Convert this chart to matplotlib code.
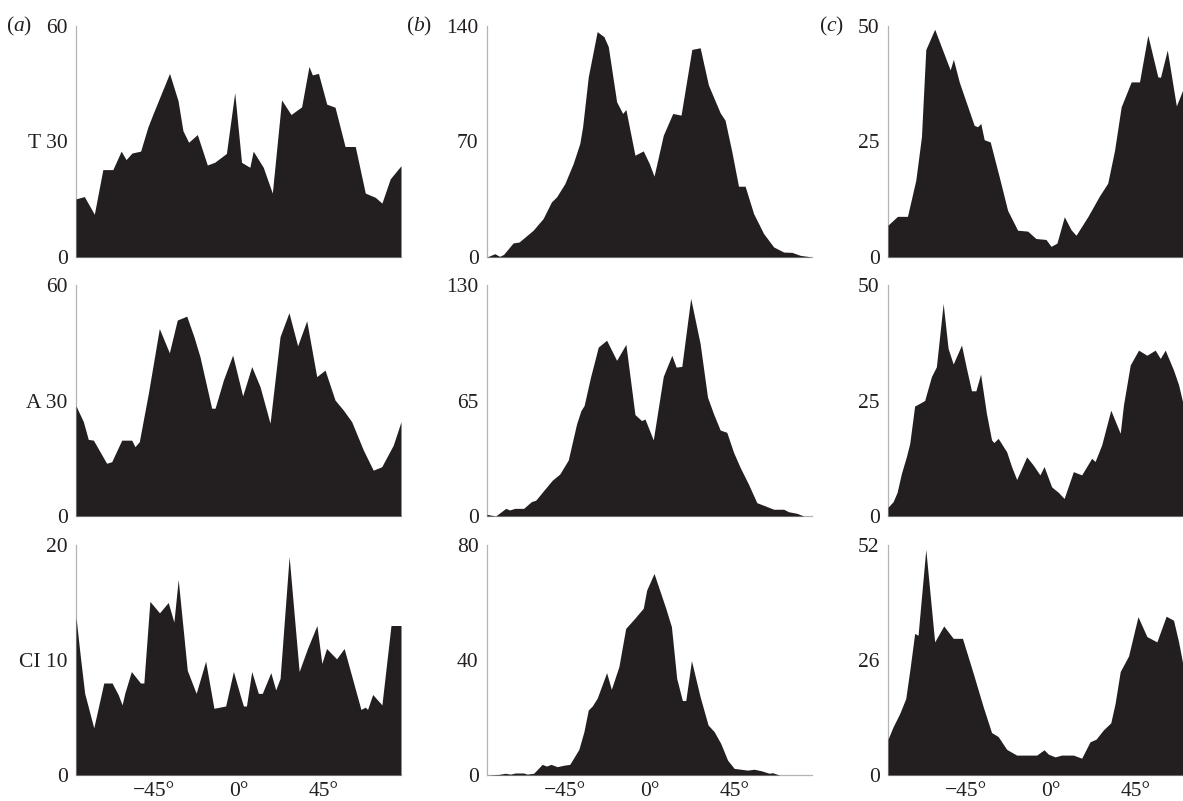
import matplotlib
matplotlib.use("Agg")
import matplotlib.pyplot as plt

plt.rcParams['font.family'] = ['Liberation Serif', 'DejaVu Serif']
plt.rcParams['mathtext.fontset'] = 'custom'
plt.rcParams['mathtext.rm'] = 'Liberation Serif'
plt.rcParams['mathtext.it'] = 'Liberation Serif:italic'

# ---------------- data (angle in degrees, count) ----------------
# column (a)
a_T_deg = [-86, -81.6, -76.3, -71.8, -66.5, -62.1, -59.5, -56.4, -51.8, -48.0, -45.3, -36.5, -32.0,
           -29.4, -26.4, -21.8, -16.5, -12.6, -6.4, -2.0, 1.6, 6.0, 7.8, 13.1, 17.9, 22.8, 27.8,
           33.4, 37.3, 39.1, 42.3, 46.7, 51.1, 56.4, 61.8, 67.1, 72.4, 75.9, 80.3, 86]
a_T_val = [15.1, 15.7, 11.1, 22.7, 22.7, 27.5, 25.3, 27.0, 27.5, 33.7, 37.1, 47.7, 40.6,
           32.8, 29.8, 31.8, 23.9, 24.6, 26.9, 42.7, 24.6, 23.3, 27.5, 23.3, 16.6, 40.8, 37.0,
           39.0, 49.5, 47.3, 47.7, 39.7, 38.9, 28.7, 28.7, 16.6, 15.5, 14.0, 20.3, 23.7]

a_A_deg = [-86, -82.1, -79.5, -76.8, -69.8, -67.1, -61.8, -56.5, -54.8, -52.5, -47.7, -41.9, -36.6,
           -32.4, -27.4, -23.6, -20.4, -14.2, -12.4, -8.0, -3.1, 2.2, 7.0, 11.4, 16.7, 22.0, 26.7,
           31.3, 36.1, 41.4, 45.8, 51.1, 55.5, 59.9, 66.1, 71.3, 75.8, 81.9, 86]
a_A_val = [28.6, 24.5, 19.9, 19.7, 13.7, 14.1, 19.7, 19.7, 18.0, 19.3, 31.9, 48.7, 42.4,
           50.9, 51.9, 46.6, 41.4, 28.0, 28.0, 35.3, 41.8, 31.2, 38.8, 33.6, 24.1, 46.6, 52.8,
           44.2, 50.7, 36.2, 37.9, 30.1, 27.5, 24.5, 17.1, 11.9, 12.8, 18.4, 24.5]

a_CI_deg = [-86, -83.7, -81.4, -76.6, -71.3, -66.9, -63.7, -61.6, -60.2, -56.7, -51.9, -50.1, -46.9,
            -41.8, -37.2, -34.2, -31.9, -27.1, -22.4, -17.4, -13.0, -6.8, -2.7, 0.6, 2.6, 4.2, 7.0,
            10.5, 12.6, 17.1, 19.7, 22.0, 26.8, 32.1, 36.5, 41.5, 44.1, 46.6, 51.9, 55.9, 64.8,
            67.1, 68.3, 71.0, 75.9, 80.7, 86]
a_CI_val = [13.7, 10.3, 7.1, 4.1, 8.0, 8.0, 7.0, 6.1, 7.1, 9.0, 8.0, 8.0, 15.1,
            14.1, 15.0, 13.3, 17.0, 9.1, 7.1, 9.9, 5.8, 6.0, 9.0, 7.1, 6.0, 6.0, 9.0,
            7.1, 7.1, 8.9, 7.4, 8.4, 19.0, 9.0, 11.0, 13.0, 9.7, 11.0, 10.1, 11.0, 5.7,
            5.9, 5.7, 7.0, 6.1, 13.0, 13.0]

# column (b)
b_T_deg = [-86, -81.9, -79.3, -77.2, -72.2, -69.0, -61.6, -56.3, -51.9, -49.2, -44.8, -40.4, -36.9,
           -35.4, -32.4, -27.7, -24.1, -21.8, -17.4, -14.2, -12.5, -7.7, -3.3, -0.1, 2.4, 7.3,
           12.3, 16.7, 22.4, 26.8, 31.2, 37.4, 40.0, 43.6, 47.1, 50.6, 55.1, 60.4, 65.7, 71.0,
           75.4, 79.8, 86]
b_T_val = [0, 2.0, 0.4, 1.6, 8.5, 9.1, 16.2, 23.3, 33.4, 36.4, 44.5, 56.6, 68.8,
           78.9, 109.2, 136.6, 133.5, 127.5, 94.1, 87.0, 89.4, 61.7, 64.3, 56.6, 49.0, 73.8,
           87.0, 86.0, 125.8, 126.8, 104.2, 87.4, 82.9, 63.7, 42.9, 42.9, 26.3, 14.2, 6.1, 3.0,
           2.8, 1.0, 0]

b_A_deg = [-86, -81.4, -76.1, -74.0, -71.3, -66.6, -62.5, -60.2, -55.4, -51.4, -47.5, -43.0, -38.6,
           -36.3, -34.6, -31.2, -27.1, -22.7, -17.4, -12.5, -7.7, -4.2, -2.4, 2.0, 7.3, 11.8,
           14.1, 17.1, 21.8, 26.8, 30.7, 33.9, 37.4, 40.9, 44.5, 48.0, 52.4, 56.8, 61.2, 65.7,
           71.0, 73.6, 78.0, 81.6, 86]
b_A_val = [0.9, 0, 4.3, 3.4, 4.3, 4.3, 8.1, 8.9, 15.1, 20.2, 23.6, 31.5, 51.8,
           59.3, 62.2, 78.2, 95.1, 98.9, 87.6, 96.6, 57.1, 53.7, 54.6, 42.8, 78.6, 90.4,
           83.8, 84.2, 122.5, 97.0, 66.9, 57.5, 48.4, 47.1, 35.8, 27.3, 17.9, 7.5, 5.7, 3.8,
           3.8, 2.4, 1.5, 0, 0]

b_CI_deg = [-86, -79.8, -76.3, -73.6, -71.0, -66.6, -64.8, -61.3, -56.8, -54.5, -52.1, -48.9, -45.3,
            -42.2, -37.4, -34.7, -32.4, -30.3, -27.7, -22.7, -20.2, -16.2, -12.6, -8.6, -3.3,
            -1.5, 2.4, 8.6, 11.6, 14.4, 17.4, 19.2, 22.2, 26.8, 31.0, 34.2, 37.7, 41.3, 44.8,
            51.9, 55.4, 59.0, 63.4, 65.1, 68.7, 86]
b_CI_val = [0, 0.2, 0.6, 0.3, 0.7, 0.7, 0.3, 0.6, 3.7, 3.1, 3.7, 2.9, 3.4,
            3.7, 8.9, 15.1, 22.6, 24.0, 26.7, 35.6, 29.8, 37.7, 51.0, 53.9, 58.0,
            64.3, 70.1, 58.0, 51.6, 33.6, 25.9, 25.9, 39.8, 27.2, 17.4, 15.1, 11.0, 5.2, 2.3,
            1.7, 2.0, 1.5, 0.6, 0.8, 0, 0]

# column (c)
c_T_deg = [-86, -81.0, -75.7, -71.3, -68.3, -66.0, -61.3, -53.1, -51.4, -48.3, -40.4, -38.6, -36.9,
           -35.1, -31.9, -27.1, -22.7, -17.4, -12.1, -7.7, -2.4, 0.3, 3.4, 7.3, 10.9, 13.5,
           19.7, 25.9, 30.3, 33.9, 37.4, 42.7, 47.1, 51.5, 56.8, 58.2, 61.8, 66.6, 70.8, 74.0]
c_T_val = [6.9, 8.8, 8.8, 16.6, 26.0, 44.9, 49.3, 40.5, 42.8, 37.9, 28.5, 28.2, 28.9,
           25.4, 24.9, 17.3, 10.1, 5.8, 5.6, 4.0, 3.8, 2.3, 3.0, 8.7, 5.9, 4.7,
           8.7, 13.2, 16.0, 23.1, 32.5, 37.9, 37.9, 48.0, 39.0, 38.9, 44.8, 32.7, 37.0, 40.0]

c_A_deg = [-86, -83.3, -81.2, -78.9, -76.3, -74.5, -71.9, -69.2, -66.6, -63.0, -60.4, -56.8, -54.2,
           -51.5, -47.1, -44.5, -41.8, -39.5, -37.0, -33.9, -31.2, -30.0, -27.7, -23.2, -20.6,
           -17.9, -12.6, -9.1, -5.6, -3.4, 0.6, 4.2, 7.2, 12.1, 16.5, 21.8, 23.6, 27.1, 31.9,
           36.9, 38.6, 42.2, 46.6, 51.0, 55.4, 58.1, 60.7, 65.1, 67.8, 70.3, 74.0]
c_A_val = [1.9, 3.1, 5.1, 9.2, 12.8, 15.7, 23.8, 24.4, 25.0, 30.2, 32.3, 46.0, 36.3,
           32.9, 37.0, 32.0, 27.1, 27.1, 30.7, 22.2, 16.5, 15.9, 16.8, 13.9, 10.7,
           7.9, 12.8, 11.0, 8.9, 10.7, 6.3, 5.1, 3.8, 9.6, 8.9, 12.5, 11.8, 15.4, 22.9,
           17.9, 24.0, 32.7, 35.9, 34.8, 35.9, 34.1, 35.9, 31.6, 28.4, 24.0, 18.0]

c_CI_deg = [-86, -83.3, -79.8, -76.6, -74.2, -71.9, -70.1, -66.0, -61.3, -56.5, -51.5, -46.6, -40.9,
            -35.6, -31.2, -27.7, -23.2, -17.9, -7.3, -3.4, -1.1, 2.4, 5.9, 12.1, 16.5, 20.9,
            24.1, 28.0, 31.9, 34.2, 36.9, 41.3, 46.3, 51.0, 56.3, 61.2, 65.1, 67.8, 70.3, 74.0]
c_CI_val = [8.1, 10.9, 13.9, 17.3, 24.5, 32.0, 31.6, 51.0, 30.1, 33.7, 30.9, 30.9, 23.0,
            15.4, 9.6, 8.7, 5.8, 4.5, 4.5, 5.7, 4.7, 4.1, 4.5, 4.5, 3.8, 7.5,
            8.1, 10.2, 11.8, 16.2, 23.4, 26.9, 35.8, 31.3, 30.1, 35.9, 35.0, 30.1, 24.5, 18.0]

# axis tops and panel labels
col_labels = ['a', 'b', 'c']
row_labels = ['T', 'A', 'CI']
y_tops = [[60, 60, 20], [140, 130, 80], [50, 50, 52]]
x_ticks = [-45, 0, 45]
x_ticklabels = ['\u221245\u00b0', '0\u00b0', '45\u00b0']

series = [[(a_T_deg, a_T_val), (a_A_deg, a_A_val), (a_CI_deg, a_CI_val)],
          [(b_T_deg, b_T_val), (b_A_deg, b_A_val), (b_CI_deg, b_CI_val)],
          [(c_T_deg, c_T_val), (c_A_deg, c_A_val), (c_CI_deg, c_CI_val)]]

# ---------------- figure ----------------
W, H = 1183, 801
fig = plt.figure(figsize=(W / 100, H / 100), dpi=100)

FILL = '#231f20'
SPINE = '#b4b4b4'
col_left_px = [76, 487, 888]
ax_w_px = 325
row_top_px = [26, 285, 545]
row_bot_px = [257, 516, 775]
label_offset = [-0.135, -0.168, -0.135]

for ci in range(3):
    for ri in range(3):
        l = col_left_px[ci] / W
        b = 1 - row_bot_px[ri] / H
        h = (row_bot_px[ri] - row_top_px[ri]) / H
        ax = fig.add_axes([l, b, ax_w_px / W, h])
        xs, ys = series[ci][ri]
        ax.fill_between(xs, ys, 0, color=FILL, lw=0, zorder=2)
        top = y_tops[ci][ri]
        ax.set_xlim(-86, 86)
        ax.set_ylim(0, top)
        for s in ['top', 'right']:
            ax.spines[s].set_visible(False)
        for s in ['left', 'bottom']:
            ax.spines[s].set_color(SPINE)
            ax.spines[s].set_linewidth(0.9)
            ax.spines[s].set_zorder(0)
        mid = top / 2
        mid_txt = f'{mid:g}'
        if ci == 0:
            mid_txt = f'{row_labels[ri]} {mid_txt}'
        ax.set_yticks([0, mid, top])
        ax.set_yticklabels(['0', mid_txt, f'{top:g}'])
        ax.tick_params(axis='y', length=0, pad=6, labelsize=15.5, labelcolor=FILL)
        if ri == 2:
            ax.set_xticks(x_ticks)
            ax.set_xticklabels(x_ticklabels)
            ax.tick_params(axis='x', length=0, pad=5, labelsize=15.5, labelcolor=FILL)
        else:
            ax.set_xticks([])
        if ri == 0:
            ax.text(label_offset[ci], 1.0, rf'($\mathit{{{col_labels[ci]}}}$)',
                    transform=ax.transAxes, ha='right', va='center', fontsize=15.5, color=FILL)

fig.savefig('out.png', dpi=100)
